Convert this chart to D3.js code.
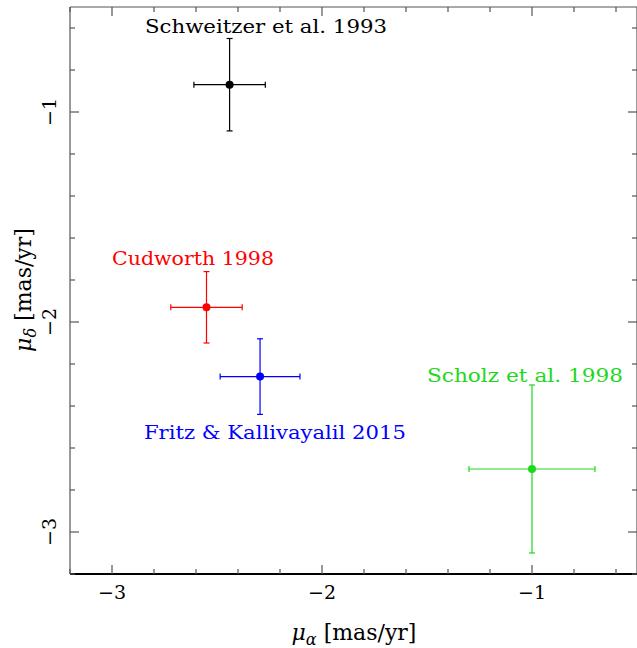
<!DOCTYPE html>
<html><head><meta charset="utf-8">
<script src="https://cdn.jsdelivr.net/npm/d3@7"></script>
<style>body{margin:0;background:#fff}svg{display:block}</style>
</head><body>
<script>
const names = ["Schweitzer et al. 1993", "Cudworth 1998", "Fritz & Kallivayalil 2015", "Scholz et al. 1998"];
const muAlpha = [-2.44, -2.55, -2.295, -1.00];
const muDelta = [-0.87, -1.93, -2.26, -2.70];
const errAlpha = [0.17, 0.17, 0.19, 0.30];
const errDelta = [0.22, 0.17, 0.18, 0.40];
const labelX = [-2.843, -3.0, -2.848, -1.5];
const labelY = [-0.624, -1.729, -2.557, -2.286];
const colors = ["#000000", "#ff0000", "#0000ff", "#1ed81e"];
const xMajor = [-3, -2, -1];
const yMajor = [-3, -2, -1];

const W = 637, H = 648;
const L = 70, R = 637, T = 7, B = 574;
const x = d3.scaleLinear().domain([-3.2, -0.5]).range([L, R]);
const y = d3.scaleLinear().domain([-3.2, -0.5]).range([B, T]);
const font = "DejaVu Serif";
const svg = d3.select("body").append("svg").attr("width", W).attr("height", H);

// frame
svg.append("line").attr("x1", L).attr("x2", L).attr("y1", T).attr("y2", B).attr("stroke", "#555").attr("stroke-width", 1.2);
svg.append("line").attr("x1", L).attr("x2", R).attr("y1", T).attr("y2", T).attr("stroke", "#555").attr("stroke-width", 1.2);
svg.append("line").attr("x1", R).attr("x2", R).attr("y1", T).attr("y2", B).attr("stroke", "#555").attr("stroke-width", 1.2);
svg.append("line").attr("x1", L).attr("x2", R).attr("y1", B).attr("y2", B).attr("stroke", "#000").attr("stroke-width", 2);

// ticks
const minorX = d3.range(-3.2, -0.45, 0.2).map(v => +v.toFixed(2));
const minorY = d3.range(-3.2, -0.45, 0.2).map(v => +v.toFixed(2));
const isMajor = v => Math.abs(v - Math.round(v)) < 1e-6;
const tk = svg.append("g").attr("stroke", "#555").attr("stroke-width", 1.2);
minorX.forEach(v => {
  const len = isMajor(v) ? 9 : 5;
  tk.append("line").attr("x1", x(v)).attr("x2", x(v)).attr("y1", B).attr("y2", B - len);
  tk.append("line").attr("x1", x(v)).attr("x2", x(v)).attr("y1", T).attr("y2", T + len);
});
minorY.forEach(v => {
  const len = isMajor(v) ? 9 : 5;
  tk.append("line").attr("y1", y(v)).attr("y2", y(v)).attr("x1", L).attr("x2", L + len);
  tk.append("line").attr("y1", y(v)).attr("y2", y(v)).attr("x1", R).attr("x2", R - len);
});

const fmt = d3.format("d");
// x tick labels
svg.append("g").selectAll("text").data(xMajor).join("text")
  .attr("x", d => x(d)).attr("y", 599).attr("text-anchor", "middle")
  .attr("font-family", font).attr("font-size", 19).text(d => fmt(d));
// y tick labels (rotated)
svg.append("g").selectAll("text").data(yMajor).join("text")
  .attr("transform", d => `translate(56,${y(d)}) rotate(-90)`)
  .attr("text-anchor", "middle")
  .attr("font-family", font).attr("font-size", 19).text(d => fmt(d));

// axis titles
const xt = svg.append("text").attr("x", 354).attr("y", 640).attr("text-anchor", "middle")
  .attr("font-family", font).attr("font-size", 22);
xt.append("tspan").attr("font-style", "italic").text("μ");
xt.append("tspan").attr("font-style", "italic").attr("font-size", 16).attr("dy", 5).text("α");
xt.append("tspan").attr("dy", -5).text(" [mas/yr]");

const yt = svg.append("text").attr("transform", "translate(31,290) rotate(-90)").attr("text-anchor", "middle")
  .attr("font-family", font).attr("font-size", 22);
yt.append("tspan").attr("font-style", "italic").text("μ");
yt.append("tspan").attr("font-style", "italic").attr("font-size", 16).attr("dy", 5).text("δ");
yt.append("tspan").attr("dy", -5).text(" [mas/yr]");

// data
const idx = d3.range(names.length);
const cap = 3;
const g = svg.append("g");
idx.forEach(i => {
  const c = colors[i];
  const cx = x(muAlpha[i]), cy = y(muDelta[i]);
  const x0 = x(muAlpha[i] - errAlpha[i]), x1 = x(muAlpha[i] + errAlpha[i]);
  const y0 = y(muDelta[i] - errDelta[i]), y1 = y(muDelta[i] + errDelta[i]);
  const gg = g.append("g").attr("stroke", c).attr("stroke-width", 1.2);
  gg.append("line").attr("x1", x0).attr("x2", x1).attr("y1", cy).attr("y2", cy);
  gg.append("line").attr("x1", cx).attr("x2", cx).attr("y1", y0).attr("y2", y1);
  [x0, x1].forEach(xx => gg.append("line").attr("x1", xx).attr("x2", xx).attr("y1", cy - cap).attr("y2", cy + cap));
  [y0, y1].forEach(yy => gg.append("line").attr("y1", yy).attr("y2", yy).attr("x1", cx - cap).attr("x2", cx + cap));
  g.append("circle").attr("cx", cx).attr("cy", cy).attr("r", 4).attr("fill", c);
});
// labels
const lw = [242, 162, 262, 196];
g.selectAll("text.lbl").data(idx).join("text").attr("class", "lbl")
  .attr("x", i => x(labelX[i])).attr("y", i => y(labelY[i]))
  .attr("fill", i => colors[i])
  .attr("font-family", font).attr("font-size", 19)
  .attr("textLength", i => lw[i]).attr("lengthAdjust", "spacingAndGlyphs")
  .text(i => names[i]);
</script>
</body></html>
